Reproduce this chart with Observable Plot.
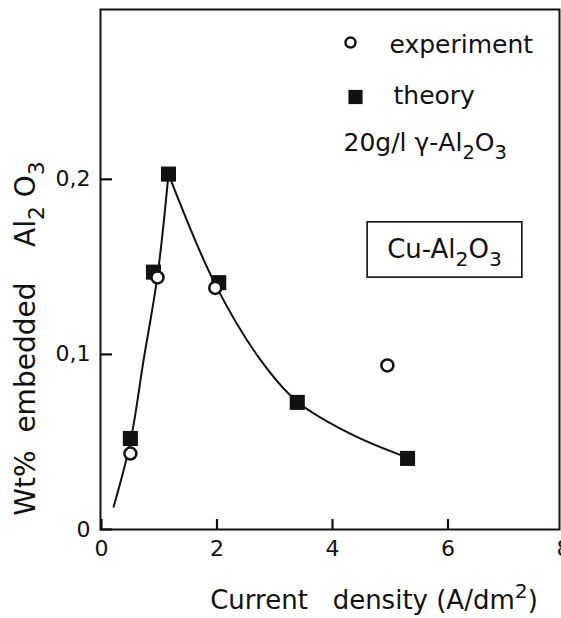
<!DOCTYPE html>
<html><head><meta charset="utf-8">
<script src="https://cdn.jsdelivr.net/npm/d3@7"></script>
<script src="https://cdn.jsdelivr.net/npm/@observablehq/plot@0.6"></script>
<style>
html,body{margin:0;padding:0;background:#fff;}
#chart svg{display:block;}
</style></head><body><div id="chart"></div>
<script>
// ---- data ----
const xTicks = [0, 2, 4, 6, 8];
const yTicks = [0, 0.1, 0.2];
const theoryX = [0.5, 0.9, 1.16, 2.03, 3.39, 5.3];
const theoryY = [0.052, 0.147, 0.203, 0.141, 0.0726, 0.0406];
const experimentX = [0.5, 0.97, 1.97, 4.95];
const experimentY = [0.0434, 0.144, 0.138, 0.0937];
const riseX = [0.21, 0.5, 0.73, 0.97, 1.16];
const riseY = [0.013, 0.05, 0.097, 0.145, 0.203];
const fallX = [1.16, 1.97, 2.75, 3.39, 4.35, 5.3];
const fallY = [0.203, 0.14, 0.097, 0.073, 0.054, 0.041];
const legendLabels = ["experiment", "theory"];
const noteLabel = "20g/l γ-Al₂O₃";
const boxLabel = "Cu-Al₂O₃";
const xTitle = "Current\u00A0\u00A0\u00A0density (A/dm²)";
const yTitle = "Wt%\u00A0\u00A0embedded\u00A0\u00A0\u00A0\u00A0Al₂ O₃";

// ---- tables built from the arrays ----
const theory = theoryX.map((x, i) => ({x, y: theoryY[i]}));
const experiment = experimentX.map((x, i) => ({x, y: experimentY[i]}));
const curve = [
  ...riseX.map((x, i) => ({x, y: riseY[i], seg: "rise"})),
  ...fallX.map((x, i) => ({x, y: fallY[i], seg: "fall"}))
];

const ink = "#111";
const fmtY = d => d === 0 ? "0" : d.toFixed(1).replace(".", ",");

const W = 561, H = 618, mL = 100, mR = 2, mT = 9, mB = 89;
const xTickLen = 10, yTickLen = 12;

const svg = Plot.plot({
  width: W, height: H,
  marginLeft: mL, marginRight: mR, marginTop: mT, marginBottom: mB,
  style: {fontFamily: "DejaVu Sans", color: ink, background: "#fff"},
  x: {domain: [0, 8], range: [101, 563]},
  y: {domain: [0, 0.297]},
  marks: [
    Plot.frame({stroke: ink, strokeWidth: 2}),
    // inward tick marks
    Plot.ruleX(xTicks, {stroke: ink, strokeWidth: 2.2, insetTop: (H - mT - mB) - xTickLen}),
    Plot.ruleY(yTicks, {stroke: ink, strokeWidth: 2.2, insetRight: (W - mL - mR) - yTickLen}),
    // tick labels
    Plot.axisX({ticks: xTicks, tickSize: 0, tickPadding: 11, fontSize: 22, tickFormat: d => String(d), label: null}),
    Plot.axisY({ticks: yTicks, tickSize: 0, tickPadding: 10, fontSize: 22, tickFormat: fmtY, label: null}),
    Plot.line(curve, {x: "x", y: "y", z: "seg", curve: "catmull-rom", stroke: ink, strokeWidth: 2}),
    Plot.dot(theory, {x: "x", y: "y", symbol: "square", r: 8.5, fill: ink, stroke: null}),
    Plot.dot(experiment, {x: "x", y: "y", symbol: "circle", r: 6, fill: "#fff", stroke: ink, strokeWidth: 2.5}),
    // legend
    Plot.dot([legendLabels[0]], {frameAnchor: "top-left", dx: 250, dy: 33, symbol: "circle", r: 5, fill: "#fff", stroke: ink, strokeWidth: 2.5}),
    Plot.dot([legendLabels[1]], {frameAnchor: "top-left", dx: 255, dy: 87.5, symbol: "square", r: 8, fill: ink, stroke: null}),
    Plot.text([legendLabels[0]], {text: d => d, frameAnchor: "top-left", dx: 289, dy: 35, textAnchor: "start", lineAnchor: "middle", fontSize: 25, fill: ink}),
    Plot.text([legendLabels[1]], {text: d => d, frameAnchor: "top-left", dx: 293, dy: 86, textAnchor: "start", lineAnchor: "middle", fontSize: 25, fill: ink}),
    Plot.text([noteLabel], {text: d => d, frameAnchor: "top-left", dx: 243, dy: 133, textAnchor: "start", lineAnchor: "middle", fontSize: 25, fill: ink}),
    Plot.text([boxLabel], {text: d => d, frameAnchor: "top-left", dx: 344, dy: 240, textAnchor: "middle", lineAnchor: "middle", fontSize: 26, fill: ink, className: "boxed"}),
    // axis titles
    Plot.text([xTitle], {text: d => d, frameAnchor: "bottom", dx: 44, dy: 71, textAnchor: "middle", lineAnchor: "middle", fontSize: 26, fill: ink}),
    Plot.text([yTitle], {text: d => d, frameAnchor: "left", dx: -74, dy: 69, rotate: -90, textAnchor: "middle", lineAnchor: "middle", fontSize: 28, fill: ink})
  ]
});
document.getElementById("chart").appendChild(svg);

// turn ₂ ₃ ² into real lowered / raised digits (text stays text)
const scripts = {"₂": ["2", 0.32], "₃": ["3", 0.32], "²": ["2", -0.42]};
const NS = "http://www.w3.org/2000/svg";
svg.querySelectorAll("text").forEach(t => {
  const s = t.textContent;
  if (!/[₂₃²]/.test(s)) return;
  const runs = [];
  for (const ch of s) {
    const sc = scripts[ch];
    const off = sc ? sc[1] : 0;
    const c = sc ? sc[0] : ch;
    const last = runs[runs.length - 1];
    if (last && last.off === off) last.s += c; else runs.push({s: c, off});
  }
  while (t.firstChild) t.removeChild(t.firstChild);
  let cur = 0;
  runs.forEach(r => {
    const ts = document.createElementNS(NS, "tspan");
    const small = r.off !== 0;
    if (small) ts.setAttribute("font-size", "78%");
    const k = small ? 0.78 : 1;
    if (r.off !== cur) ts.setAttribute("dy", ((r.off - cur) / k).toFixed(3) + "em");
    cur = r.off;
    ts.textContent = r.s;
    t.appendChild(ts);
  });
});

// frame box round the Cu-Al2O3 label
svg.querySelectorAll(".boxed text").forEach(t => {
  const b = t.getBBox();
  const g = t.parentNode;
  const rect = document.createElementNS(NS, "rect");
  rect.setAttribute("x", b.x - 20);
  rect.setAttribute("y", b.y - 12);
  rect.setAttribute("width", b.width + 40);
  rect.setAttribute("height", b.height + 18);
  rect.setAttribute("fill", "none");
  rect.setAttribute("stroke", ink);
  rect.setAttribute("stroke-width", 1.6);
  if (t.getAttribute("transform")) rect.setAttribute("transform", t.getAttribute("transform"));
  g.insertBefore(rect, t);
});
</script>
</body></html>
